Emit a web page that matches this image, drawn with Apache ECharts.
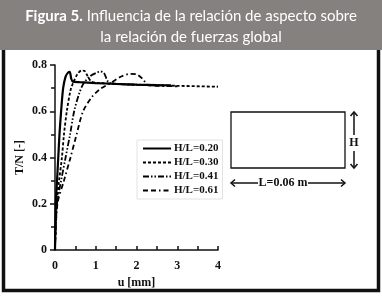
<!DOCTYPE html>
<html>
<head>
<meta charset="utf-8">
<script src="https://cdn.jsdelivr.net/npm/echarts@6/dist/echarts.min.js"></script>
<style>
  html, body { margin: 0; padding: 0; background: #fff; }
  #chart { width: 382px; height: 296px; }
</style>
</head>
<body>
<div id="chart"></div>
<script>
// series names (legend)
const seriesNames = ['H/L=0.20', 'H/L=0.30', 'H/L=0.41', 'H/L=0.61']

// [u (mm), T/N]
const hl020 = [[0, 0], [0.02, 0.2], [0.05, 0.3], [0.08, 0.4], [0.11, 0.5], [0.15, 0.6], [0.2, 0.7],
  [0.26, 0.75], [0.32, 0.767], [0.36, 0.77], [0.4, 0.74], [0.44, 0.728], [0.6, 0.726], [1, 0.722],
  [1.5, 0.718], [2, 0.715], [2.5, 0.713], [2.85, 0.712]]
const hl030 = [[0, 0], [0.04, 0.2], [0.1, 0.3], [0.17, 0.4], [0.22, 0.5], [0.29, 0.6], [0.38, 0.69],
  [0.45, 0.725], [0.55, 0.76], [0.65, 0.776], [0.72, 0.775], [0.8, 0.752], [0.9, 0.728], [1.2, 0.721],
  [2, 0.714], [3, 0.71], [4, 0.706]]
const hl041 = [[0, 0], [0.05, 0.2], [0.15, 0.3], [0.26, 0.4], [0.37, 0.5], [0.47, 0.6], [0.6, 0.68],
  [0.7, 0.72], [0.85, 0.75], [1, 0.765], [1.12, 0.772], [1.2, 0.766], [1.3, 0.728], [1.4, 0.72],
  [2, 0.715], [2.8, 0.711]]
const hl061 = [[0, 0], [0.06, 0.2], [0.22, 0.3], [0.38, 0.4], [0.53, 0.5], [0.69, 0.6], [0.9, 0.66],
  [1.1, 0.695], [1.35, 0.72], [1.6, 0.748], [1.85, 0.762], [2, 0.76], [2.15, 0.74], [2.28, 0.713],
  [2.5, 0.71], [3, 0.708]]

const seriesData = [hl020, hl030, hl041, hl061]
const dashTypes = ['solid', [3, 2], [6, 2, 1.5, 2, 1.5, 2], [5, 3, 5, 3, 1.5, 3]]
const lineWidths = [2.2, 1.8, 1.8, 1.8]

const serif = '"Liberation Serif", "DejaVu Serif", serif'
const sans = 'Lato, "Noto Sans", sans-serif'

const chart = echarts.init(document.getElementById('chart'))

const option = {
  animation: false,
  backgroundColor: '#fff',
  grid: { left: 55, right: 164, top: 65, bottom: 46 },
  legend: {
    data: seriesNames,
    orient: 'vertical',
    left: 137,
    top: 140,
    itemWidth: 28,
    itemHeight: 10,
    itemGap: 3,
    padding: [3, 4, 3, 5],
    borderColor: '#e2e2e2',
    borderWidth: 1,
    backgroundColor: '#fff',
    itemStyle: { opacity: 0 },
    textStyle: { fontFamily: serif, fontWeight: 'bold', fontSize: 11, color: '#111', padding: [0, 0, 0, -2] },
  },
  xAxis: {
    type: 'value',
    min: 0,
    max: 4,
    interval: 1,
    name: 'u [mm]',
    nameLocation: 'middle',
    nameGap: 25,
    nameTextStyle: { fontFamily: serif, fontWeight: 'bold', fontSize: 12, color: '#111' },
    axisLine: { lineStyle: { color: '#111', width: 1.5 } },
    axisTick: { inside: true, length: 4, lineStyle: { color: '#111', width: 1.5 } },
    minorTick: { show: true, splitNumber: 2, length: 4, lineStyle: { color: '#111', width: 1.5 } },
    axisLabel: { margin: 10, fontFamily: serif, fontWeight: 'bold', fontSize: 12, color: '#111' },
    splitLine: { show: false },
  },
  yAxis: {
    type: 'value',
    min: 0,
    max: 0.8,
    interval: 0.2,
    name: 'T/N [-]',
    nameLocation: 'middle',
    nameGap: 29,
    nameTextStyle: { fontFamily: serif, fontWeight: 'bold', fontSize: 12, color: '#111' },
    axisLine: { show: true, lineStyle: { color: '#111', width: 1.5 } },
    axisTick: { show: true, length: 5, lineStyle: { color: '#111', width: 1.5 } },
    minorTick: { show: true, splitNumber: 2, length: 4, lineStyle: { color: '#111', width: 1.5 } },
    axisLabel: { margin: 8, fontFamily: serif, fontWeight: 'bold', fontSize: 12, color: '#111',
      formatter: v => (v === 0 ? '0' : v.toFixed(1)) },
    splitLine: { show: false },
  },
  series: seriesNames.map((name, i) => ({
    name: name,
    type: 'line',
    data: seriesData[i],
    symbol: 'none',
    smooth: 0.3,
    color: '#000',
    lineStyle: { color: '#000', width: lineWidths[i], type: dashTypes[i] },
  })),
  graphic: [
    // panel frame
    { type: 'rect', z: -20, shape: { x: 3.5, y: 48, width: 375, height: 242.5 },
      style: { fill: '#fff', stroke: '#111', lineWidth: 3.5 } },
    // header band
    { type: 'rect', z: -10, shape: { x: 0, y: 0, width: 382, height: 50 }, style: { fill: '#85817f' } },
    { type: 'text', z: -5, left: 'center', top: 9,
      style: {
        text: '{b|Figura 5.} Influencia de la relación de aspecto sobre',
        fill: '#fff', font: '15px ' + sans,
        rich: { b: { fontFamily: sans, fontWeight: 'bold', fontSize: 15, fill: '#fff' } },
      } },
    { type: 'text', z: -5, left: 'center', top: 30,
      style: { text: 'la relación de fuerzas global', fill: '#fff', font: '15px ' + sans } },
    // geometry sketch
    { type: 'rect', shape: { x: 231, y: 112, width: 114, height: 56 },
      style: { fill: 'none', stroke: '#111', lineWidth: 1.3 } },
    { type: 'line', shape: { x1: 354, y1: 112, x2: 354, y2: 135 }, style: { stroke: '#111', lineWidth: 1.5 } },
    { type: 'polyline', shape: { points: [[350.5, 116], [354, 112], [357.5, 116]] }, style: { stroke: '#111', lineWidth: 1.5, fill: 'none' } },
    { type: 'line', shape: { x1: 354, y1: 151, x2: 354, y2: 168 }, style: { stroke: '#111', lineWidth: 1.5 } },
    { type: 'polyline', shape: { points: [[350.5, 164], [354, 168], [357.5, 164]] }, style: { stroke: '#111', lineWidth: 1.5, fill: 'none' } },
    { type: 'text', style: { x: 354, y: 143, text: 'H', align: 'center', verticalAlign: 'middle',
      fill: '#111', font: 'bold 12px ' + serif } },
    { type: 'line', shape: { x1: 231, y1: 183, x2: 258, y2: 183 }, style: { stroke: '#111', lineWidth: 1.5 } },
    { type: 'polyline', shape: { points: [[235, 179.5], [231, 183], [235, 186.5]] }, style: { stroke: '#111', lineWidth: 1.5, fill: 'none' } },
    { type: 'line', shape: { x1: 308, y1: 183, x2: 345, y2: 183 }, style: { stroke: '#111', lineWidth: 1.5 } },
    { type: 'polyline', shape: { points: [[341, 179.5], [345, 183], [341, 186.5]] }, style: { stroke: '#111', lineWidth: 1.5, fill: 'none' } },
    { type: 'text', style: { x: 283, y: 183, text: 'L=0.06 m', align: 'center', verticalAlign: 'middle',
      fill: '#111', font: 'bold 12px ' + serif } },
  ],
}

chart.setOption(option)
</script>
</body>
</html>
